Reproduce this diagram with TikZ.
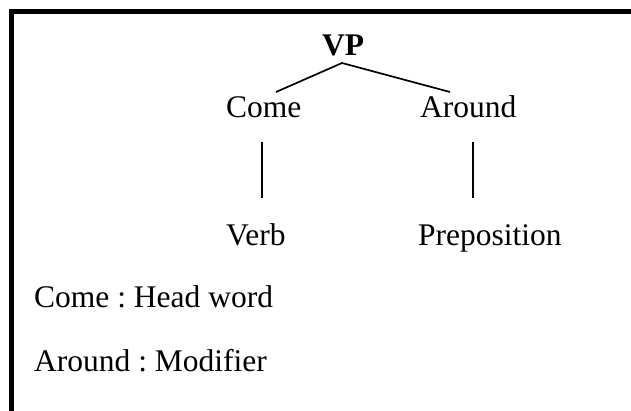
\documentclass[tikz,border=0pt]{standalone}
\usepackage{fontspec}
\setmainfont{Liberation Serif}
\frenchspacing
\begin{document}
\begin{tikzpicture}[x=1pt,y=-1pt,
  word/.style={inner sep=0pt,anchor=base west,font=\fontsize{31.5}{36}\selectfont},
  branch/.style={line width=1.7pt},
  frame/.style={line width=4.5pt}]
\useasboundingbox (0,0) rectangle (631,410);
\fill[white] (0,0) rectangle (631,410);

% outer frame, running off the right and bottom edges
\draw[frame] (11.5,420) -- (11.5,11.5) -- (640,11.5);

% tree labels
\node[word,anchor=base,font=\fontsize{31.5}{36}\selectfont\bfseries] (vp) at (343,55) {VP};
\node[word] (come) at (226,117) {Come};
\node[word] (around) at (420,117) {Around};
\node[word] (verb) at (226,245) {Verb};
\node[word] (prep) at (418,245) {Preposition};

% legend
\node[word] (head) at (34,307) {Come : Head word};
\node[word] (mod) at (34,371) {Around : Modifier};

% branch points
\coordinate (apex) at (342,63);
\coordinate (comeTop) at (276,92);
\coordinate (aroundTop) at (450,92);
\coordinate (comeFoot) at (262,142);
\coordinate (verbTop) at (262,198);
\coordinate (aroundFoot) at (473,142);
\coordinate (prepTop) at (473,198);

\draw[branch] (comeTop) -- (apex) -- (aroundTop);
\draw[branch] (comeFoot) -- (verbTop);
\draw[branch] (aroundFoot) -- (prepTop);
\end{tikzpicture}
\end{document}
